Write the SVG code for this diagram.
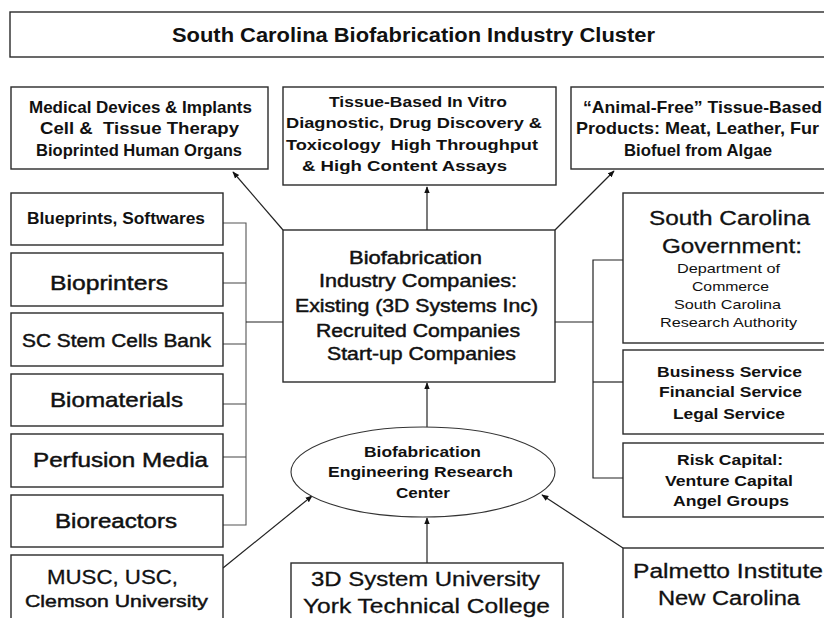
<svg xmlns="http://www.w3.org/2000/svg" width="824" height="618" viewBox="0 0 824 618">
  <defs>
    <marker id="arrow" viewBox="0 0 10 10" refX="9" refY="5" markerWidth="7" markerHeight="7" orient="auto-start-reverse" markerUnits="userSpaceOnUse">
      <path d="M0,1 L10,5 L0,9 Z" fill="#111"/>
    </marker>
  </defs>
  <style>
    .box { fill: #ffffff; stroke: #2a2a2a; stroke-width: 1.4; }
    .t { font-family: "Liberation Sans", Arial, sans-serif; fill: #111; font-weight: bold; }
    .r { font-family: "Liberation Sans", Arial, sans-serif; fill: #111; font-weight: normal; stroke: #111; stroke-width: 0.45; }
    .n { font-family: "Liberation Sans", Arial, sans-serif; fill: #111; font-weight: normal; }
    .m { font-family: "Liberation Sans", Arial, sans-serif; fill: #111; font-weight: normal; stroke: #111; stroke-width: 0.3; }
    .link { fill: none; stroke: #222; stroke-width: 1.2; }
    .tree { fill: none; stroke: #555; stroke-width: 1.1; }
    .arr { fill: none; stroke: #222; stroke-width: 1.2; marker-end: url(#arrow); }
  </style>
  <rect width="824" height="618" fill="#ffffff"/>

  <!-- connectors -->
  <g id="connectors">
    <!-- industry companies to markets -->
    <line class="arr" x1="283" y1="230" x2="233" y2="172"/>
    <line class="arr" x1="427" y1="230" x2="427" y2="187"/>
    <line class="arr" x1="555" y1="230" x2="614" y2="171"/>
    <!-- supply chain tree on the left -->
    <polyline class="tree" points="223,223 246,223 246,525 223,525"/>
    <line class="tree" x1="223" y1="283" x2="246" y2="283"/>
    <line class="tree" x1="223" y1="344" x2="246" y2="344"/>
    <line class="tree" x1="223" y1="404" x2="246" y2="404"/>
    <line class="tree" x1="223" y1="457" x2="246" y2="457"/>
    <line class="link" x1="246" y1="322" x2="283" y2="322"/>
    <!-- support tree on the right -->
    <line class="link" x1="555" y1="322" x2="593" y2="322"/>
    <polyline class="link" points="623,260 593,260 593,478 623,478"/>
    <line class="link" x1="593" y1="382" x2="623" y2="382"/>
    <!-- research center feeds -->
    <line class="arr" x1="427" y1="427" x2="427" y2="383"/>
    <line class="arr" x1="427" y1="563" x2="427" y2="518"/>
    <line class="arr" x1="223" y1="568" x2="312" y2="496"/>
    <line class="arr" x1="623" y1="548" x2="542" y2="495"/>
  </g>

  <g id="title">
    <rect class="box" x="10" y="12" width="830" height="45"/>
    <text class="t" x="172" y="42" font-size="20" textLength="483" lengthAdjust="spacingAndGlyphs">South Carolina Biofabrication Industry Cluster</text>
  </g>

  <g id="medical">
    <rect class="box" x="11" y="87" width="257" height="82"/>
    <text class="t" font-size="17" x="29" y="113" textLength="223" lengthAdjust="spacingAndGlyphs">Medical Devices &amp; Implants</text>
    <text class="t" font-size="17" x="40" y="134" textLength="199" lengthAdjust="spacingAndGlyphs" xml:space="preserve">Cell &amp;  Tissue Therapy</text>
    <text class="t" font-size="17" x="36" y="156" textLength="206" lengthAdjust="spacingAndGlyphs">Bioprinted Human Organs</text>
  </g>

  <g id="assays">
    <rect class="box" x="283" y="87" width="273" height="98"/>
    <text class="t" font-size="15.5" x="329" y="107" textLength="178" lengthAdjust="spacingAndGlyphs">Tissue-Based In Vitro</text>
    <text class="t" font-size="15.5" x="286" y="128" textLength="256" lengthAdjust="spacingAndGlyphs">Diagnostic, Drug Discovery &amp;</text>
    <text class="t" font-size="15.5" x="286" y="150" textLength="252" lengthAdjust="spacingAndGlyphs" xml:space="preserve">Toxicology  High Throughput</text>
    <text class="t" font-size="15.5" x="302" y="171" textLength="205" lengthAdjust="spacingAndGlyphs">&amp; High Content Assays</text>
  </g>

  <g id="animal-free">
    <rect class="box" x="571" y="87" width="270" height="82"/>
    <text class="t" font-size="16.5" x="583" y="113" textLength="239" lengthAdjust="spacingAndGlyphs">“Animal-Free” Tissue-Based</text>
    <text class="t" font-size="16.5" x="576" y="134" textLength="243" lengthAdjust="spacingAndGlyphs">Products: Meat, Leather, Fur</text>
    <text class="t" font-size="16.5" x="624" y="156" textLength="148" lengthAdjust="spacingAndGlyphs">Biofuel from Algae</text>
  </g>

  <g id="blueprints">
    <rect class="box" x="11" y="193" width="212" height="52"/>
    <text class="t" font-size="16" x="27" y="224" textLength="178" lengthAdjust="spacingAndGlyphs">Blueprints, Softwares</text>
  </g>
  <g id="bioprinters">
    <rect class="box" x="11" y="253" width="212" height="53"/>
    <text class="r" font-size="21" x="50" y="290" textLength="118" lengthAdjust="spacingAndGlyphs">Bioprinters</text>
  </g>
  <g id="stem-cells">
    <rect class="box" x="11" y="313" width="212" height="53"/>
    <text class="r" font-size="18" x="22" y="347" textLength="189" lengthAdjust="spacingAndGlyphs">SC Stem Cells Bank</text>
  </g>
  <g id="biomaterials">
    <rect class="box" x="11" y="374" width="212" height="52"/>
    <text class="r" font-size="21" x="50" y="407" textLength="133" lengthAdjust="spacingAndGlyphs">Biomaterials</text>
  </g>
  <g id="perfusion">
    <rect class="box" x="11" y="434" width="212" height="53"/>
    <text class="r" font-size="20" x="33" y="467" textLength="175" lengthAdjust="spacingAndGlyphs">Perfusion Media</text>
  </g>
  <g id="bioreactors">
    <rect class="box" x="11" y="495" width="212" height="52"/>
    <text class="r" font-size="20" x="55" y="528" textLength="122" lengthAdjust="spacingAndGlyphs">Bioreactors</text>
  </g>
  <g id="universities">
    <rect class="box" x="11" y="555" width="212" height="80"/>
    <text class="m" font-size="21" x="47" y="584" textLength="131" lengthAdjust="spacingAndGlyphs">MUSC, USC,</text>
    <text class="r" font-size="17" x="25" y="607" textLength="183" lengthAdjust="spacingAndGlyphs">Clemson University</text>
  </g>

  <g id="industry">
    <rect class="box" x="283" y="230" width="272" height="152"/>
    <text class="r" font-size="17.5" x="349" y="264" textLength="133" lengthAdjust="spacingAndGlyphs">Biofabrication</text>
    <text class="r" font-size="17.5" x="319" y="287" textLength="198" lengthAdjust="spacingAndGlyphs">Industry Companies:</text>
    <text class="r" font-size="17.5" x="295" y="312" textLength="243" lengthAdjust="spacingAndGlyphs">Existing (3D Systems Inc)</text>
    <text class="r" font-size="17.5" x="316" y="337" textLength="204" lengthAdjust="spacingAndGlyphs">Recruited Companies</text>
    <text class="r" font-size="17.5" x="327" y="360" textLength="189" lengthAdjust="spacingAndGlyphs">Start-up Companies</text>
  </g>

  <g id="government">
    <rect class="box" x="623" y="193" width="220" height="150"/>
    <text class="m" font-size="20" x="649" y="225" textLength="161" lengthAdjust="spacingAndGlyphs">South Carolina</text>
    <text class="m" font-size="20" x="662" y="253" textLength="140" lengthAdjust="spacingAndGlyphs">Government:</text>
    <text class="n" font-size="13.5" x="677" y="273" textLength="103" lengthAdjust="spacingAndGlyphs">Department of</text>
    <text class="n" font-size="13.5" x="692" y="291" textLength="77" lengthAdjust="spacingAndGlyphs">Commerce</text>
    <text class="n" font-size="13.5" x="674" y="309" textLength="107" lengthAdjust="spacingAndGlyphs">South Carolina</text>
    <text class="n" font-size="13.5" x="660" y="327" textLength="137" lengthAdjust="spacingAndGlyphs">Research Authority</text>
  </g>

  <g id="services">
    <rect class="box" x="623" y="350" width="220" height="84"/>
    <text class="t" font-size="15" x="657" y="377" textLength="145" lengthAdjust="spacingAndGlyphs">Business Service</text>
    <text class="t" font-size="15" x="659" y="397" textLength="143" lengthAdjust="spacingAndGlyphs">Financial Service</text>
    <text class="t" font-size="15" x="673" y="419" textLength="112" lengthAdjust="spacingAndGlyphs">Legal Service</text>
  </g>

  <g id="risk-capital">
    <rect class="box" x="623" y="443" width="220" height="74"/>
    <text class="t" font-size="15" x="677" y="465" textLength="106" lengthAdjust="spacingAndGlyphs">Risk Capital:</text>
    <text class="t" font-size="15" x="665" y="486" textLength="128" lengthAdjust="spacingAndGlyphs">Venture Capital</text>
    <text class="t" font-size="15" x="673" y="506" textLength="116" lengthAdjust="spacingAndGlyphs">Angel Groups</text>
  </g>

  <g id="palmetto">
    <rect class="box" x="623" y="548" width="220" height="90"/>
    <text class="m" font-size="19.5" x="633" y="578" textLength="190" lengthAdjust="spacingAndGlyphs">Palmetto Institute</text>
    <text class="m" font-size="19.5" x="658" y="605" textLength="142" lengthAdjust="spacingAndGlyphs">New Carolina</text>
  </g>

  <g id="research-center">
    <ellipse cx="423" cy="472" rx="132" ry="45" fill="#ffffff" stroke="#333" stroke-width="1.1"/>
    <text class="t" font-size="15.5" x="364" y="457" textLength="117" lengthAdjust="spacingAndGlyphs">Biofabrication</text>
    <text class="t" font-size="15.5" x="328" y="477" textLength="185" lengthAdjust="spacingAndGlyphs">Engineering Research</text>
    <text class="t" font-size="15.5" x="396" y="498" textLength="54" lengthAdjust="spacingAndGlyphs">Center</text>
  </g>

  <g id="york">
    <rect class="box" x="291" y="563" width="272" height="70"/>
    <text class="m" font-size="20.5" x="311" y="586" textLength="229" lengthAdjust="spacingAndGlyphs">3D System University</text>
    <text class="m" font-size="20.5" x="303" y="613" textLength="247" lengthAdjust="spacingAndGlyphs">York Technical College</text>
  </g>
</svg>
